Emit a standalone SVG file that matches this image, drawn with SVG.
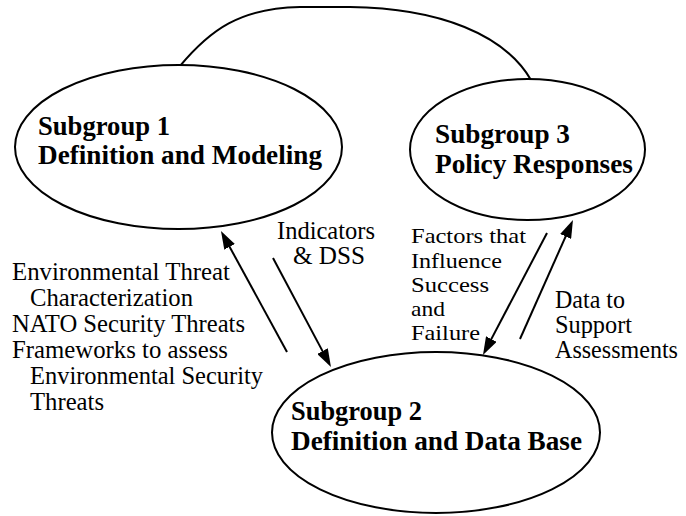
<svg xmlns="http://www.w3.org/2000/svg" width="686" height="516" viewBox="0 0 686 516">
  <style>
    .node { fill: #fff; stroke: #000; stroke-width: 2; }
    text { font-family: 'Liberation Serif', 'Times New Roman', Tinos, 'DejaVu Serif', 'Noto Serif', FreeSerif, serif; fill: #000; }
    .title { font-weight: bold; font-size: 28px; }
    .label { font-size: 25px; }
    .tight { font-size: 22px; }
    .link { fill: none; stroke: #000; stroke-width: 2; }
  </style>
  <defs>
    <marker id="arrow" viewBox="0 0 18 12" refX="10" refY="6" markerWidth="18" markerHeight="12" markerUnits="userSpaceOnUse" orient="auto">
      <path d="M0,0 L18,6 L0,12 z" fill="#000"/>
    </marker>
  </defs>
  <rect width="686" height="516" fill="#fff"/>

  <!-- connectors -->
  <g id="connectors">
    <path class="link" d="M180,66 C210,30 240,8 300,7 L350,7 C440,8 505,35 531,80"/>
    <line class="link" x1="287" y1="352" x2="224.8" y2="238" marker-end="url(#arrow)"/>
    <line class="link" x1="273" y1="258" x2="327.2" y2="359.9" marker-end="url(#arrow)"/>
    <line class="link" x1="547" y1="233" x2="486.7" y2="347.9" marker-end="url(#arrow)"/>
    <line class="link" x1="520" y1="339" x2="569.7" y2="227.3" marker-end="url(#arrow)"/>
  </g>

  <!-- subgroup 1 -->
  <g id="subgroup1">
    <ellipse class="node" cx="178.5" cy="147" rx="163.5" ry="82"/>
    <text class="title" x="38" y="135" textLength="132" lengthAdjust="spacingAndGlyphs">Subgroup 1</text>
    <text class="title" x="38" y="164" textLength="284" lengthAdjust="spacingAndGlyphs">Definition and Modeling</text>
  </g>

  <!-- subgroup 3 -->
  <g id="subgroup3">
    <ellipse class="node" cx="527.5" cy="149.5" rx="117.5" ry="70.5"/>
    <text class="title" x="435" y="143" textLength="135" lengthAdjust="spacingAndGlyphs">Subgroup 3</text>
    <text class="title" x="435" y="173" textLength="198" lengthAdjust="spacingAndGlyphs">Policy Responses</text>
  </g>

  <!-- subgroup 2 -->
  <g id="subgroup2">
    <ellipse class="node" cx="436" cy="432.5" rx="164" ry="80.5"/>
    <text class="title" x="291" y="420" textLength="131" lengthAdjust="spacingAndGlyphs">Subgroup 2</text>
    <text class="title" x="291" y="450" textLength="291" lengthAdjust="spacingAndGlyphs">Definition and Data Base</text>
  </g>

  <!-- connector labels -->
  <g id="labels">
    <text class="label" x="12" y="280" textLength="218" lengthAdjust="spacingAndGlyphs">Environmental Threat</text>
    <text class="label" x="30" y="306" textLength="163" lengthAdjust="spacingAndGlyphs">Characterization</text>
    <text class="label" x="12" y="332" textLength="233" lengthAdjust="spacingAndGlyphs">NATO Security Threats</text>
    <text class="label" x="12" y="358" textLength="216" lengthAdjust="spacingAndGlyphs">Frameworks to assess</text>
    <text class="label" x="30" y="384" textLength="233" lengthAdjust="spacingAndGlyphs">Environmental Security</text>
    <text class="label" x="30" y="410" textLength="74" lengthAdjust="spacingAndGlyphs">Threats</text>

    <text class="label" x="277" y="239" textLength="98" lengthAdjust="spacingAndGlyphs">Indicators</text>
    <text class="label" x="293" y="264" textLength="72" lengthAdjust="spacingAndGlyphs">&amp; DSS</text>

    <text class="label tight" x="411" y="243" textLength="115" lengthAdjust="spacingAndGlyphs">Factors that</text>
    <text class="label tight" x="411" y="268" textLength="91" lengthAdjust="spacingAndGlyphs">Influence</text>
    <text class="label tight" x="411" y="292" textLength="78" lengthAdjust="spacingAndGlyphs">Success</text>
    <text class="label tight" x="411" y="316" textLength="34" lengthAdjust="spacingAndGlyphs">and</text>
    <text class="label tight" x="411" y="340" textLength="69" lengthAdjust="spacingAndGlyphs">Failure</text>

    <text class="label" x="555" y="308" textLength="70" lengthAdjust="spacingAndGlyphs">Data to</text>
    <text class="label" x="555" y="333" textLength="77" lengthAdjust="spacingAndGlyphs">Support</text>
    <text class="label" x="555" y="358" textLength="123" lengthAdjust="spacingAndGlyphs">Assessments</text>
  </g>
</svg>
